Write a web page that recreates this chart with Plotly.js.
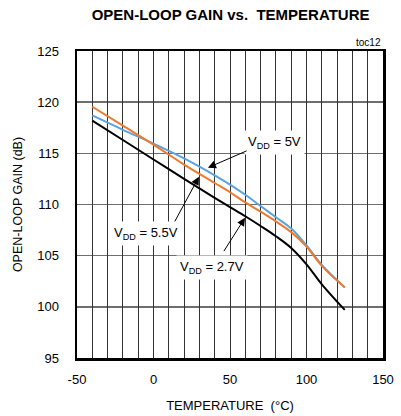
<!DOCTYPE html>
<html>
<head>
<meta charset="utf-8">
<script src="https://cdn.plot.ly/plotly-3.0.1.min.js"></script>
<style>html,body{margin:0;padding:0;background:#fff;}#chart{width:401px;height:416px;}</style>
</head>
<body>
<div id="chart"></div>
<script>
// Temperature (°C)
const temp = [-40, -20, 0, 20, 40, 50, 60, 70, 80, 90, 100, 110, 125];
// Open-loop gain (dB)
const gain27 = [118.2, 116.3, 114.4, 112.5, 110.65, 109.75, 108.85, 107.9, 106.9, 105.75, 104.15, 102.2, 99.7];
const gain5 = [118.7, 117.3, 115.95, 114.5, 112.85, 111.95, 110.95, 109.85, 108.75, 107.65, 106.0, 104.1, 101.9];
const gain55 = [119.55, 117.7, 115.85, 113.9, 112.1, 111.2, 110.2, 109.3, 108.35, 107.3, 105.9, 104.0, 101.9];
const seriesNames = ['V<sub>DD</sub> = 2.7V', 'V<sub>DD</sub> = 5V', 'V<sub>DD</sub> = 5.5V'];
const xTicks = [-50, 0, 50, 100, 150];
const yTicks = [95, 100, 105, 110, 115, 120, 125];

const FONT = '"Liberation Sans", Arial, sans-serif';

const traces = [
  {x: temp, y: gain5, mode: 'lines', line: {color: '#5BA3E0', width: 2, shape: 'spline', smoothing: 1}, name: seriesNames[1]},
  {x: temp, y: gain55, mode: 'lines', line: {color: '#EE7B2C', width: 2, shape: 'spline', smoothing: 1}, name: seriesNames[2]},
  {x: temp, y: gain27, mode: 'lines', line: {color: '#000000', width: 2, shape: 'spline', smoothing: 1}, name: seriesNames[0]}
];

function label(txt, x, y) {
  return {x: x, y: y, xref: 'x', yref: 'y', text: txt, showarrow: false,
    bgcolor: '#ffffff', borderpad: 3, font: {family: FONT, size: 13, color: '#000'}};
}
function arrow(tx, ty, hx, hy) {
  return {x: hx, y: hy, ax: tx, ay: ty, xref: 'x', yref: 'y', axref: 'x', ayref: 'y',
    text: '', showarrow: true, arrowhead: 2, arrowsize: 1.6, arrowwidth: 1, arrowcolor: '#000'};
}

const layout = {
  width: 401, height: 416,
  margin: {l: 77, r: 18, t: 51, b: 58},
  paper_bgcolor: '#fff', plot_bgcolor: '#fff',
  showlegend: false,
  font: {family: FONT, size: 13, color: '#000'},
  title: {text: '<b>OPEN-LOOP GAIN vs.  TEMPERATURE</b>', x: 0.575, xanchor: 'center', y: 0.965, yanchor: 'middle',
    font: {family: FONT, size: 15, color: '#000'}},
  xaxis: {
    range: [-50, 150], tickvals: xTicks, ticktext: xTicks.map(String),
    showgrid: false, zeroline: false,
    showline: true, linecolor: '#000', linewidth: 2.5, mirror: true,
    ticks: '', ticklabelstandoff: 8,
    tickfont: {family: FONT, size: 13, color: '#000'},
    title: {text: 'TEMPERATURE  (°C)', standoff: 15, font: {family: FONT, size: 13, color: '#000'}}
  },
  yaxis: {
    range: [95, 125], tickvals: yTicks, ticktext: yTicks.map(String),
    showgrid: true, gridcolor: '#6e6e6e', gridwidth: 1.6, zeroline: false,
    showline: true, linecolor: '#000', linewidth: 2.5, mirror: true,
    ticks: '', ticklabelstandoff: 13,
    tickfont: {family: FONT, size: 13, color: '#000'},
    title: {text: 'OPEN-LOOP GAIN (dB)', standoff: 12, font: {family: FONT, size: 12.5, color: '#000'}}
  },
  xaxis2: {
    overlaying: 'x', range: [-50, 150], dtick: 10, tick0: -50,
    showgrid: true, gridcolor: '#333', gridwidth: 1, showticklabels: false, zeroline: false,
    matches: 'x'
  },
  annotations: [
    label(seriesNames[1], 79.4, 116.1),
    label(seriesNames[2], -4.9, 107.2),
    label(seriesNames[0], 38.2, 103.8),
    arrow(61.8, 115.3, 35.6, 113.6),
    arrow(13.4, 108.2, 29.7, 112.7),
    arrow(45.4, 105.3, 59.8, 108.7),
    {xref: 'paper', yref: 'paper', x: 1, y: 1, xanchor: 'right', yanchor: 'bottom', yshift: 1,
      text: 'toc12', showarrow: false, font: {family: FONT, size: 10, color: '#000'}}
  ]
};

// vertical grid via a helper invisible trace on xaxis2
const gridTrace = {x: [-50, 150], y: [95, 95], xaxis: 'x2', yaxis: 'y', mode: 'lines',
  line: {width: 0}, hoverinfo: 'skip', showlegend: false};

Plotly.newPlot('chart', [gridTrace].concat(traces), layout, {staticPlot: true, displayModeBar: false});
</script>
</body>
</html>
